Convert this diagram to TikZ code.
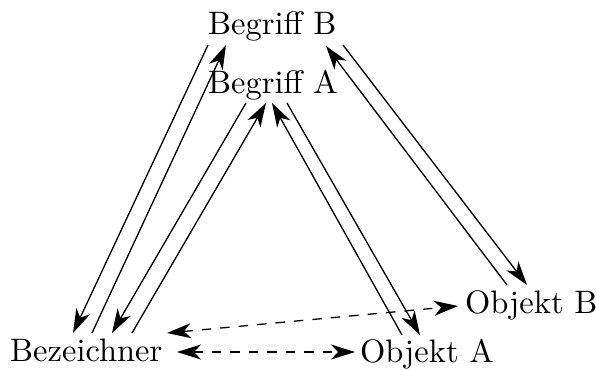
\documentclass[tikz,border=0pt]{standalone}
\usetikzlibrary{arrows.meta}
\newcommand{\bigtxt}[1]{\scalebox{3.25}{#1}}
\tikzset{
  arr/.tip={Stealth[length=24pt,width=15pt,inset=7pt]},
}
\begin{document}
\begin{tikzpicture}[
  x=1pt, y=-1pt,
  every node/.style={inner sep=0pt, anchor=base west},
  rel/.style={-arr, line width=1.3pt},
  assoc/.style={arr-arr, line width=1.3pt, dash pattern=on 9.5pt off 9pt}
]
\useasboundingbox (0,0) rectangle (596,369);

% terms, designator and objects
\node (bB)  at (208,35)  {\bigtxt{Begriff B}};
\node (bA)  at (208,93)  {\bigtxt{Begriff A}};
\node (bez) at (10,361)  {\bigtxt{Bezeichner}};
\node (oA)  at (360,362) {\bigtxt{Objekt A}};
\node (oB)  at (465,313) {\bigtxt{Objekt B}};

% designator <-> term B
\draw[rel] ([shift={(0,10)}]bB.base west)   -- ([shift={(63,-28)}]bez.base west);
\draw[rel] ([shift={(82,-28)}]bez.base west) -- ([shift={(18,10)}]bB.base west);

% designator <-> term A
\draw[rel] ([shift={(38,10)}]bA.base west)   -- ([shift={(102,-28)}]bez.base west);
\draw[rel] ([shift={(122,-28)}]bez.base west) -- ([shift={(58,10)}]bA.base west);

% object A <-> term A
\draw[rel] ([shift={(42,-27)}]oA.base west) -- ([shift={(64,10)}]bA.base west);
\draw[rel] ([shift={(79,10)}]bA.base west)  -- ([shift={(60,-27)}]oA.base west);

% object B <-> term B
\draw[rel] ([shift={(42,-28)}]oB.base west) -- ([shift={(118,11)}]bB.base west);
\draw[rel] ([shift={(135,10)}]bB.base west) -- ([shift={(62,-28)}]oB.base west);

% designator <-> objects
\draw[assoc] ([shift={(167,-9)}]bez.base west)  -- ([shift={(-5,-10)}]oA.base west);
\draw[assoc] ([shift={(157,-28)}]bez.base west) -- ([shift={(-7,-7)}]oB.base west);
\end{tikzpicture}
\end{document}
